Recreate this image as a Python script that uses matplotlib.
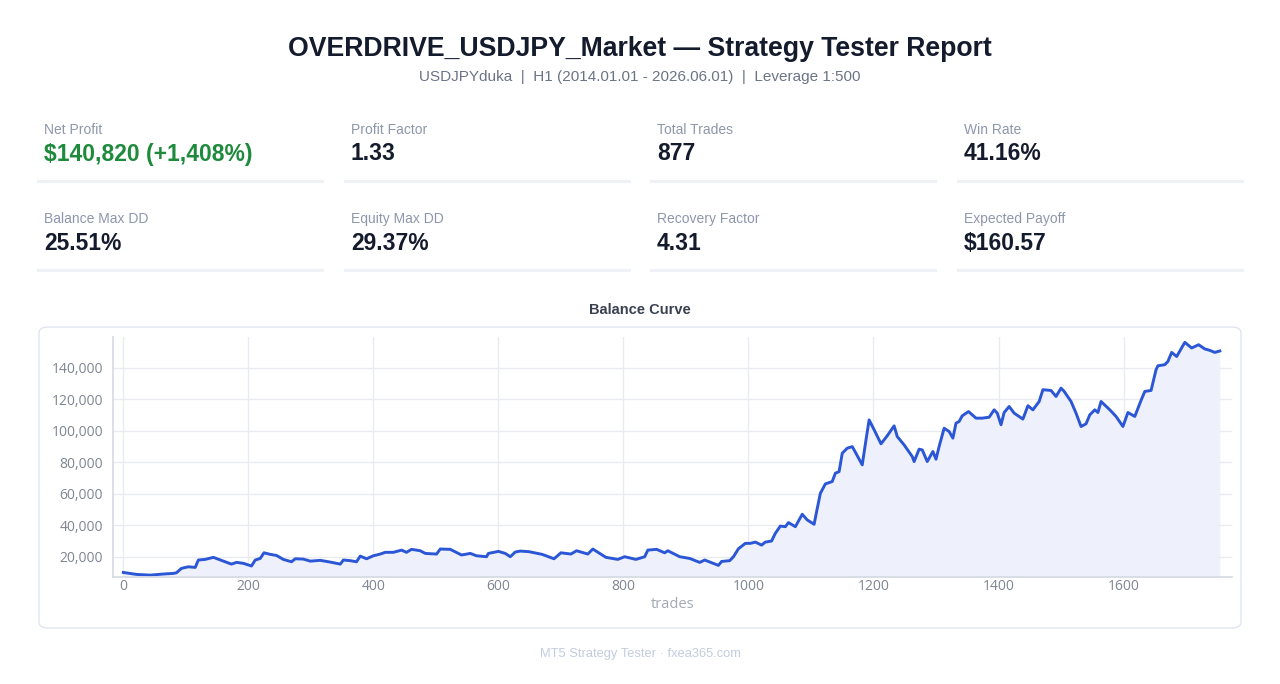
import numpy as np
import matplotlib
matplotlib.use('Agg')
import matplotlib.pyplot as plt
from matplotlib.patches import FancyBboxPatch
from matplotlib.lines import Line2D
from matplotlib.ticker import FuncFormatter, MultipleLocator

# balance curve (deal index, balance)
trades = [0, 21, 43, 64, 80, 85, 93, 104, 115, 120, 131, 144, 160, 173, 181, 192, 205, 211, 219, 225,
          235, 245, 256, 269, 275, 288, 299, 315, 331, 347, 352, 363, 373, 379, 389, 400, 411, 419, 432,
          445, 453, 461, 475, 483, 501, 507, 523, 541, 555, 565, 581, 584, 600, 611, 619, 627, 635,
          649, 670, 689, 700, 716, 725, 743, 751, 772, 791, 802, 820, 834, 839, 853, 866, 871, 890,
          906, 922, 930, 952, 957, 970, 976, 984, 995, 1003, 1011, 1021, 1027, 1037, 1043, 1051, 1059,
          1064, 1075, 1086, 1094, 1105, 1109, 1115, 1123, 1134, 1139, 1145, 1150, 1158, 1166, 1169,
          1182, 1188, 1193, 1201, 1212, 1222, 1233, 1238, 1249, 1262, 1265, 1273, 1278, 1286, 1295,
          1300, 1305, 1313, 1321, 1327, 1332, 1337, 1342, 1352, 1364, 1374, 1385, 1393, 1398, 1404,
          1409, 1417, 1425, 1439, 1447, 1455, 1465, 1471, 1484, 1492, 1500, 1505, 1516, 1524, 1532,
          1540, 1546, 1554, 1559, 1564, 1578, 1588, 1599, 1607, 1618, 1628, 1634, 1644, 1652, 1655,
          1666, 1671, 1677, 1685, 1698, 1709, 1720, 1730, 1738, 1746, 1754]
balance = [10000, 8750, 8300, 9000, 9400, 9800, 12600, 13600, 13200, 17900, 18300, 19600, 17200, 15300,
           16400, 15800, 14100, 17900, 18900, 22500, 21500, 20800, 18300, 16800, 18700, 18500, 17200,
           17700, 16600, 15300, 17900, 17500, 16800, 20400, 18700, 20600, 21700, 22800, 22800, 24200,
           22800, 24700, 23800, 22100, 21700, 24900, 24700, 21100, 22100, 20600, 20000, 22100, 23400,
           22100, 20000, 23000, 23600, 23200, 21500, 18700, 22500, 21700, 23800, 21700, 24900, 19600,
           18300, 20000, 18300, 20000, 24200, 24700, 22500, 23800, 20000, 18900, 16400, 17900, 14500,
           17000, 17500, 20000, 25100, 28500, 28500, 29300, 27400, 29300, 30000, 34900, 39500, 39100,
           41700, 39100, 47000, 43400, 40600, 48700, 60300, 66300, 67800, 73100, 74100, 85800, 89000,
           90000, 87900, 78400, 94300, 107000, 100700, 91800, 96900, 103200, 96400, 91100, 83700,
           80500, 88400, 87900, 80500, 86900, 82000, 90100, 101700, 99600, 95400, 104900, 106000,
           109600, 112300, 108100, 108100, 108700, 113400, 111300, 103900, 111700, 115500, 111300,
           107500, 116000, 113400, 118700, 126200, 125700, 121900, 127200, 125100, 118700, 111300,
           102800, 104500, 110200, 113400, 111700, 118700, 113400, 109200, 102800, 111700, 109200,
           119400, 125100, 125700, 138900, 141400, 142100, 144200, 149900, 147300, 156300, 152700,
           154800, 152100, 151200, 149900, 150820]

title = 'OVERDRIVE_USDJPY_Market \u2014 Strategy Tester Report'
subtitle = 'USDJPYduka  |  H1 (2014.01.01 - 2026.06.01)  |  Leverage 1:500'
card_labels = ['Net Profit', 'Profit Factor', 'Total Trades', 'Win Rate',
               'Balance Max DD', 'Equity Max DD', 'Recovery Factor', 'Expected Payoff']
card_values = ['$140,820 (+1,408%)', '1.33', '877', '41.16%',
               '25.51%', '29.37%', '4.31', '$160.57']

W, H = 1280, 684
fig = plt.figure(figsize=(W / 100, H / 100), dpi=100)
fig.patch.set_facecolor('white')

def fx(px):
    return px / W

def fy(py):
    return 1 - py / H

hdr = ['Liberation Sans', 'DejaVu Sans']
fig.text(0.5, fy(49), title, ha='center', va='center', fontsize=19.2, fontweight='bold',
         color='#141b2d', family=hdr)
fig.text(0.5, fy(77), subtitle, ha='center', va='center', fontsize=11, color='#6b7485', family=hdr)

# metric cards
col_x = [38, 345, 651, 958]
col_w = 284
for i, (lab, val) in enumerate(zip(card_labels, card_values)):
    r, c = divmod(i, 4)
    x0 = col_x[c]
    y0 = 130 + r * 89
    fig.text(fx(x0 + 6), fy(y0), lab, ha='left', va='center', fontsize=10,
             color='#8d97ab', family=hdr)
    fig.text(fx(x0 + 6), fy(y0 + 24), val, ha='left', va='center', fontsize=16.5,
             fontweight='bold', color='#1e8a3c' if i == 0 else '#141b2d', family=hdr)
    fig.add_artist(Line2D([fx(x0), fx(x0 + col_w)], [fy(y0 + 51), fy(y0 + 51)],
                          transform=fig.transFigure, color='#eef1f6', lw=2.2))

fig.text(0.5, fy(310), 'Balance Curve', ha='center', va='center', fontsize=10.5,
         fontweight='bold', color='#394150', family=hdr)

box = FancyBboxPatch((fx(39), fy(628)), fx(1241) - fx(39), fy(327) - fy(628),
                     boxstyle='round,pad=0,rounding_size=0.008', transform=fig.transFigure,
                     facecolor='white', edgecolor='#dfe4ee', lw=1)
fig.add_artist(box)

ax = fig.add_axes([fx(112.7), fy(576.7), fx(1231.7) - fx(112.7), fy(337) - fy(576.7)])
ax.set_zorder(2)
ax.patch.set_alpha(0)
ax.fill_between(trades, balance, 0, color='#eef1fb', lw=0)
ax.plot(trades, balance, color='#2b56d6', lw=2.1)
ax.set_xlim(-17, 1773)
ax.set_ylim(7300, 159700)
ax.xaxis.set_major_locator(MultipleLocator(200))
ax.yaxis.set_major_locator(MultipleLocator(20000))
ax.yaxis.set_major_formatter(FuncFormatter(lambda v, p: f'{int(v):,}'))
ax.grid(True, color='#e9ebf0', lw=1)
ax.set_axisbelow(True)
for s in ['top', 'right']:
    ax.spines[s].set_visible(False)
for s in ['left', 'bottom']:
    ax.spines[s].set_color('#d5dae2')
    ax.spines[s].set_linewidth(1.2)
ax.tick_params(length=0, labelsize=10, labelcolor='#7f8591')
ax.tick_params(axis='x', pad=2)
ax.tick_params(axis='y', pad=7)
for t in ax.get_xticklabels() + ax.get_yticklabels():
    t.set_family('Open Sans')
ax.set_xlabel('trades', fontsize=10.5, color='#a3a8b3', family='Open Sans', labelpad=2)

fig.text(0.5, fy(654), 'MT5 Strategy Tester \u00b7 fxea365.com', ha='center', va='center',
         fontsize=9.3, color='#c3cddd', family=hdr)

fig.savefig('out.png', dpi=100, facecolor='white')
